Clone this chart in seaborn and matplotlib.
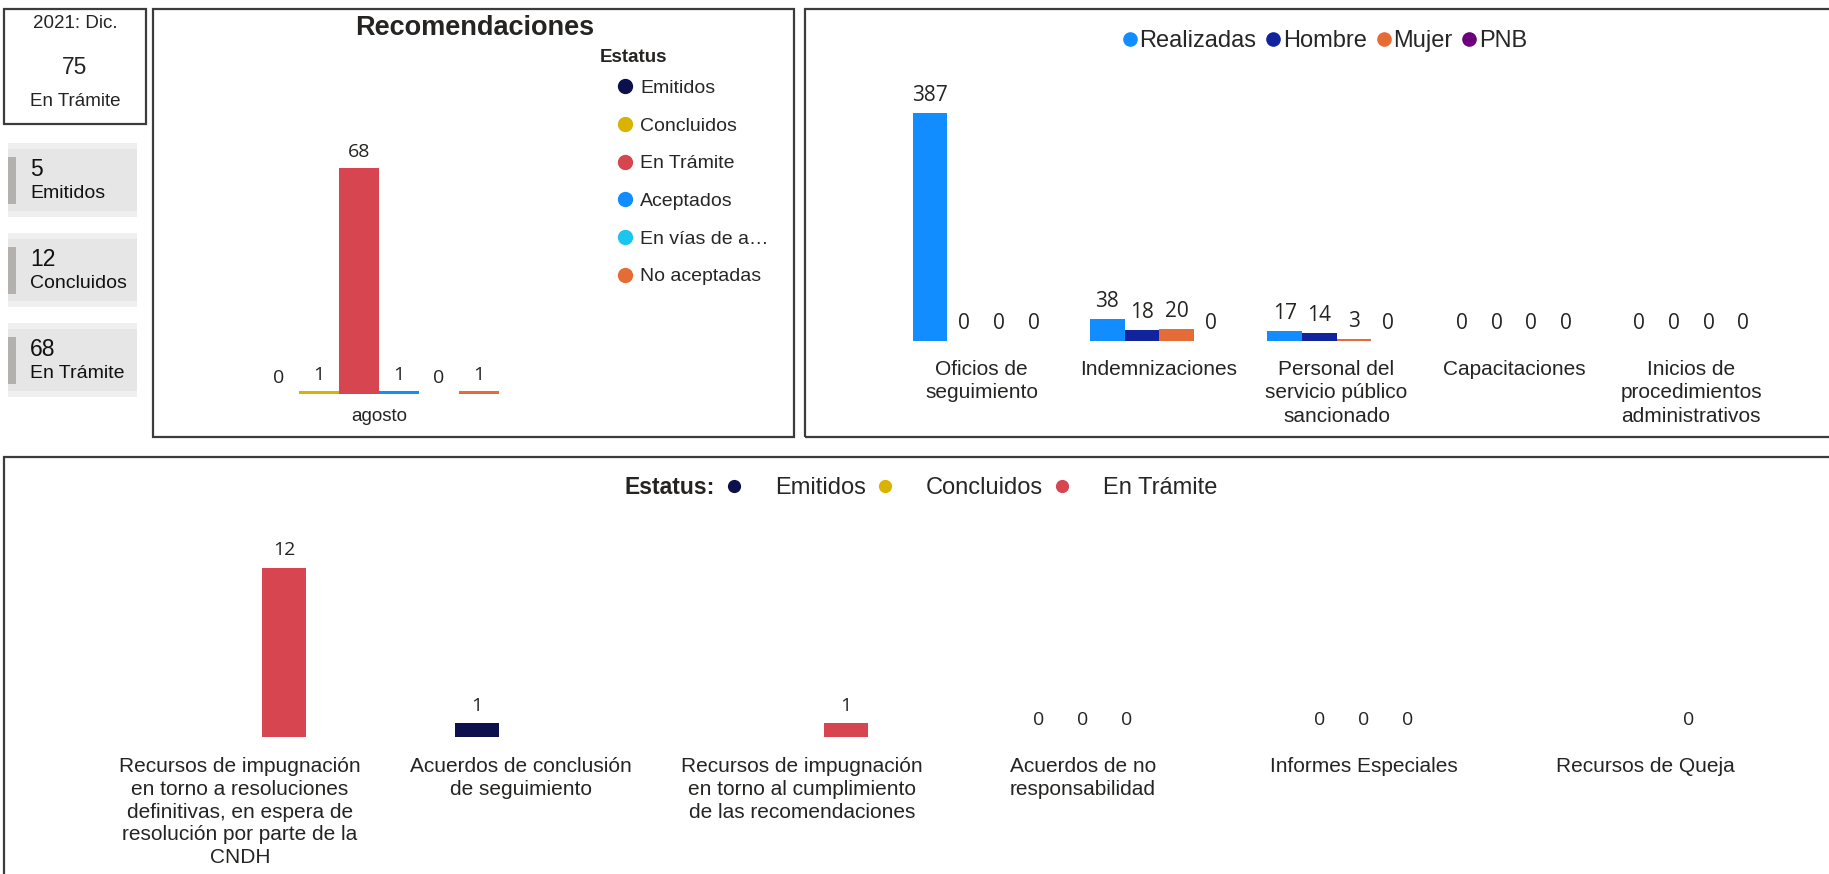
import numpy as np
import pandas as pd
import matplotlib
matplotlib.use("Agg")
import matplotlib.pyplot as plt
import seaborn as sns
from matplotlib.lines import Line2D
from matplotlib.patches import Rectangle

# ---- data ----
kpi_title = "2021: Dic."
kpi_total = 75
kpi_label = "En Trámite"
card_values = [5, 12, 68]
card_labels = ["Emitidos", "Concluidos", "En Trámite"]

rec_month = "agosto"
rec_status = ["Emitidos", "Concluidos", "En Trámite", "Aceptados", "En vías de a…", "No aceptadas"]
rec_values = [0, 1, 68, 1, 0, 1]
rec_colors = ["#0c114d", "#d9b300", "#d64550", "#118dff", "#1cc5ee", "#e66c37"]

seg_cats = ["Oficios de\nseguimiento", "Indemnizaciones", "Personal del\nservicio público\nsancionado",
            "Capacitaciones", "Inicios de\nprocedimientos\nadministrativos"]
seg_series = ["Realizadas", "Hombre", "Mujer", "PNB"]
seg_realizadas = [387, 38, 17, 0, 0]
seg_hombre = [0, 18, 14, 0, 0]
seg_mujer = [0, 20, 3, 0, 0]
seg_pnb = [0, 0, 0, 0, 0]
seg_colors = ["#118dff", "#12239e", "#e66c37", "#6b007b"]

res_cats = ["Recursos de impugnación\nen torno a resoluciones\ndefinitivas, en espera de\nresolución por parte de la\nCNDH",
            "Acuerdos de conclusión\nde seguimiento",
            "Recursos de impugnación\nen torno al cumplimiento\nde las recomendaciones",
            "Acuerdos de no\nresponsabilidad", "Informes Especiales", "Recursos de Queja"]
res_series = ["Emitidos", "Concluidos", "En Trámite"]
res_emitidos = [None, 1, None, 0, 0, None]
res_concluidos = [None, None, None, 0, 0, None]
res_tramite = [12, None, 1, 0, 0, 0]
res_colors = ["#0c114d", "#d9b300", "#d64550"]

# ---- long tables ----
rec_df = pd.DataFrame({"mes": [rec_month] * len(rec_status), "estatus": rec_status, "valor": rec_values})

seg_rows = []
for s, vals in zip(seg_series, [seg_realizadas, seg_hombre, seg_mujer, seg_pnb]):
    for c, v in zip(seg_cats, vals):
        seg_rows.append((c, s, v))
seg_df = pd.DataFrame(seg_rows, columns=["categoria", "serie", "valor"])

res_rows = []
for s, vals in zip(res_series, [res_emitidos, res_concluidos, res_tramite]):
    for c, v in zip(res_cats, vals):
        if v is not None:
            res_rows.append((c, s, v))
res_df = pd.DataFrame(res_rows, columns=["categoria", "estatus", "valor"])

sns.set_theme(style="white")
plt.rcParams["font.family"] = ["Liberation Sans", "DejaVu Sans"]
VAL_FONT = ["Open Sans", "DejaVu Sans"]
TXT = "#252423"

W, H = 1829, 874
fig = plt.figure(figsize=(W / 100, H / 100), dpi=100)


def add_ax(x0, y0, x1, y1):
    return fig.add_axes([x0 / W, 1 - y1 / H, (x1 - x0) / W, (y1 - y0) / H])


def box(x0, y0, x1, y1, **kw):
    fig.add_artist(Rectangle((x0 / W, 1 - y1 / H), (x1 - x0) / W, (y1 - y0) / H,
                             transform=fig.transFigure, **kw))


def ftext(x, y, s, **kw):
    fig.text(x / W, 1 - y / H, s, **kw)


def clean(ax):
    sns.despine(ax=ax, left=True, bottom=True)
    ax.set_xlabel("")
    ax.set_ylabel("")
    ax.tick_params(left=False, labelleft=False, bottom=False, length=0)
    ax.set_facecolor("none")


# ---- panel frames ----
border = dict(fill=False, ec="#3c3c3c", lw=1.6)
box(4, 9, 146, 124, **border)
box(153, 9, 794, 437, **border)
box(805, 9, 1840, 437, **border)
box(4, 457, 1840, 890, **border)

# ---- KPI cards ----
ftext(75, 23, kpi_title, ha="center", va="center", fontsize=13.5, color=TXT)
ftext(75, 68, str(kpi_total), ha="center", va="center", fontsize=16.5, color=TXT)
ftext(75, 102, kpi_label, ha="center", va="center", fontsize=13.5, color=TXT)

for i, (v, lab) in enumerate(zip(card_values, card_labels)):
    top = 143 + 90 * i
    box(8, top, 137, top + 74, color="#efefef", lw=0)
    box(8, top + 6, 137, top + 68, color="#e6e6e6", lw=0)
    box(8, top + 14, 16, top + 61, color="#b3b0ad", lw=0)
    ftext(30, top + 26, str(v), ha="left", va="center", fontsize=16.5, color="#111111")
    ftext(30, top + 50, lab, ha="left", va="center", fontsize=14, color="#111111")

# ---- Recomendaciones ----
ax_rec = add_ax(229, 62, 529, 394)
sns.barplot(data=rec_df, x="mes", y="valor", hue="estatus", hue_order=rec_status,
            palette=rec_colors, saturation=1, width=0.8, linewidth=0, legend=False, ax=ax_rec)
ax_rec.set_ylim(0, 100)
clean(ax_rec)
ax_rec.tick_params(axis="x", labelsize=13.5, pad=10, labelcolor=TXT)
for cont in ax_rec.containers:
    ax_rec.bar_label(cont, fmt="%g", padding=5, fontsize=14, color=TXT, family=VAL_FONT)
ftext(475, 28, "Recomendaciones", ha="center", va="center", fontsize=19.5, fontweight="bold", color=TXT)
ftext(600, 57, "Estatus", ha="left", va="center", fontsize=13.5, fontweight="bold", color=TXT)
rec_handles = [Line2D([], [], ls="", marker="o", markersize=10, color=c) for c in rec_colors]
ax_rec.legend(rec_handles, rec_status, loc="upper left",
              bbox_to_anchor=(615 / W, 1 - 79.5 / H), bbox_transform=fig.transFigure,
              frameon=False, fontsize=14, handlelength=1.0, handletextpad=0.3,
              labelspacing=1.03, borderpad=0, borderaxespad=0)

# ---- Seguimiento (top right) ----
ax_seg = add_ax(893, 82, 1780, 341)
sns.barplot(data=seg_df, x="categoria", y="valor", hue="serie", hue_order=seg_series,
            order=seg_cats, palette=seg_colors, saturation=1, width=0.78, linewidth=0,
            legend=False, ax=ax_seg)
ax_seg.set_ylim(0, 440)
clean(ax_seg)
ax_seg.tick_params(axis="x", labelsize=15, pad=14, labelcolor=TXT)
for lbl in ax_seg.get_xticklabels():
    lbl.set_linespacing(1.27)
for cont in ax_seg.containers:
    ax_seg.bar_label(cont, fmt="%g", padding=5, fontsize=15, color=TXT, family=VAL_FONT)
seg_handles = [Line2D([], [], ls="", marker="o", markersize=9.5, color=c) for c in seg_colors]
ax_seg.legend(seg_handles, seg_series, loc="center", ncol=4,
              bbox_to_anchor=(1325 / W, 1 - 41 / H), bbox_transform=fig.transFigure,
              frameon=False, fontsize=17, handlelength=0.6, handletextpad=0.1,
              columnspacing=0.42, borderpad=0, borderaxespad=0)

# ---- Recursos (bottom) ----
ax_res = add_ax(99.5, 510, 1785.5, 737)
sns.barplot(data=res_df, x="categoria", y="valor", hue="estatus", hue_order=res_series,
            order=res_cats, palette=res_colors, saturation=1, width=0.47, linewidth=0,
            legend=False, ax=ax_res)
ax_res.set_ylim(0, 16.1)
clean(ax_res)
ax_res.tick_params(axis="x", labelsize=15, pad=14.5, labelcolor=TXT)
for lbl in ax_res.get_xticklabels():
    lbl.set_linespacing(1.25)
for cont in ax_res.containers:
    ax_res.bar_label(cont, fmt="%g", padding=6, fontsize=14, color=TXT, family=VAL_FONT)
ftext(625, 488, "Estatus:", ha="left", va="center", fontsize=16.5, fontweight="bold", color=TXT)
res_handles = [Line2D([], [], ls="", marker="o", markersize=8.5, color=c) for c in res_colors]
ax_res.legend(res_handles, res_series, loc="center", ncol=3,
              bbox_to_anchor=(970 / W, 1 - 488 / H), bbox_transform=fig.transFigure,
              frameon=False, fontsize=17, handlelength=1.0, handletextpad=1.24,
              columnspacing=0.3, borderpad=0, borderaxespad=0)

fig.savefig("out.png", dpi=100)
